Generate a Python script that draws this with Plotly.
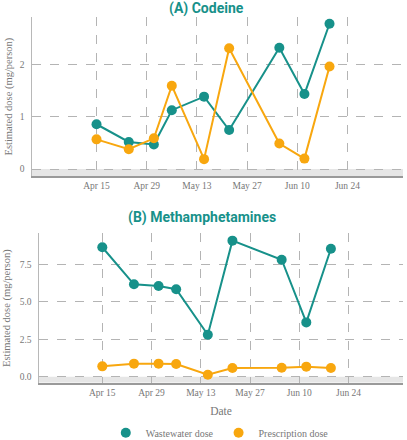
import plotly.graph_objects as go

# ---- data ----
dates = ["2020-04-15", "2020-04-24", "2020-05-01", "2020-05-06", "2020-05-15",
         "2020-05-22", "2020-06-05", "2020-06-12", "2020-06-19"]
codeine_wastewater = [0.86, 0.52, 0.47, 1.13, 1.39, 0.75, 2.33, 1.44, 2.79]
codeine_prescription = [0.57, 0.38, 0.59, 1.60, 0.19, 2.32, 0.49, 0.20, 1.97]
meth_wastewater = [8.63, 6.16, 6.05, 5.83, 2.80, 9.07, 7.80, 3.62, 8.53]
meth_prescription = [0.69, 0.87, 0.87, 0.85, 0.13, 0.58, 0.60, 0.67, 0.58]
x_tick_dates = ["2020-04-15", "2020-04-29", "2020-05-13", "2020-05-27", "2020-06-10", "2020-06-24"]
x_tick_labels = ["Apr 15", "Apr 29", "May 13", "May 27", "Jun 10", "Jun 24"]
codeine_yticks = [0, 1, 2]
meth_yticks = [0, 2.5, 5, 7.5]
series_names = ["Wastewater dose", "Prescription dose"]
panel_titles = ["(A) Codeine", "(B) Methamphetamines"]
y_title = "Estimated dose (mg/person)"
x_title = "Date"

TEAL = "#17918a"
ORANGE = "#f8a70f"
GRID = "#b4b4b4"
TXT = "#777777"
SERIF = "Liberation Serif"

W, H = 407, 440
fig = go.Figure()

def add_pair(xa, ya, ww, pr):
    for vals, col in ((ww, TEAL), (pr, ORANGE)):
        fig.add_trace(go.Scatter(
            x=dates, y=vals, mode="lines+markers", xaxis=xa, yaxis=ya,
            line=dict(color=col, width=2), marker=dict(color=col, size=10),
            showlegend=False, hoverinfo="skip"))

add_pair("x", "y", codeine_wastewater, codeine_prescription)
add_pair("x2", "y2", meth_wastewater, meth_prescription)

# legend-only entries (markers only)
for name, col in zip(series_names, (TEAL, ORANGE)):
    fig.add_trace(go.Scatter(x=[None], y=[None], mode="markers", name=name,
                             marker=dict(color=col, size=10), xaxis="x2", yaxis="y2"))

xrange_ = ["2020-03-28", "2020-07-09 12:00"]
common_x = dict(type="date", range=xrange_, tickvals=x_tick_dates, ticktext=x_tick_labels,
                showgrid=True, gridcolor=GRID, griddash="dash",
                gridwidth=1, showline=True, linecolor="#9a9a9a", linewidth=2,
                ticks="", tickfont=dict(family=SERIF, size=9.5, color=TXT),
                zeroline=False, automargin=False)
common_y = dict(showgrid=True, gridcolor=GRID, griddash="dash", gridwidth=1,
                showline=True, linecolor="#b8b8b8", linewidth=1.5, ticks="",
                tickfont=dict(family=SERIF, size=9.5, color=TXT), zeroline=False,
                ticklabelstandoff=4, automargin=False)

fig.update_layout(
    width=W, height=H, margin=dict(l=0, r=0, t=0, b=0, autoexpand=False),
    paper_bgcolor="white", plot_bgcolor="white",
    xaxis=dict(common_x, domain=[32 / W, 403 / W], anchor="y"),
    yaxis=dict(common_y, domain=[1 - 176 / H, 1 - 17 / H], range=[-0.134, 2.92],
               tickvals=codeine_yticks, anchor="x"),
    xaxis2=dict(common_x, domain=[39 / W, 403 / W], anchor="y2",
                title=dict(text=x_title, font=dict(family=SERIF, size=11.5, color=TXT),
                           standoff=10)),
    yaxis2=dict(common_y, domain=[1 - 382.7 / H, 1 - 233 / H], range=[-0.4, 9.58],
                tickvals=meth_yticks, tickformat=".1f", anchor="x2"),
    legend=dict(orientation="h", x=0.54, xanchor="center", y=1 - 432.7 / H,
                yanchor="middle", font=dict(family=SERIF, size=10, color=TXT),
                itemwidth=30, tracegroupgap=0),
    showlegend=True,
)

# gray band below zero
for xr, yr, lo in (("x", "y", -0.134), ("x2", "y2", -0.4)):
    fig.add_shape(type="rect", xref=f"{xr} domain", yref=yr, x0=0, x1=1, y0=lo, y1=0,
                  fillcolor="#e6e6e6", line_width=0, layer="below")

# panel titles
for txt, ypx, xpx in ((panel_titles[0], 8, 206), (panel_titles[1], 217, 202)):
    fig.add_annotation(text=f"<b>{txt}</b>", x=xpx / W, y=1 - ypx / H, xref="paper",
                       yref="paper", showarrow=False, xanchor="center", yanchor="middle",
                       font=dict(family="Roboto", size=14, color=TEAL))

# y-axis titles
for ypx, xpx in ((96.5, 8), (308, 7)):
    fig.add_annotation(text=y_title, x=xpx / W, y=1 - ypx / H, xref="paper", yref="paper",
                       showarrow=False, textangle=-90, xanchor="center", yanchor="middle",
                       font=dict(family=SERIF, size=10.5, color=TXT))

fig.write_html("out.html", config={"displayModeBar": False, "staticPlot": True},
               post_script="document.body.style.margin='0';document.body.style.overflow='hidden';")
